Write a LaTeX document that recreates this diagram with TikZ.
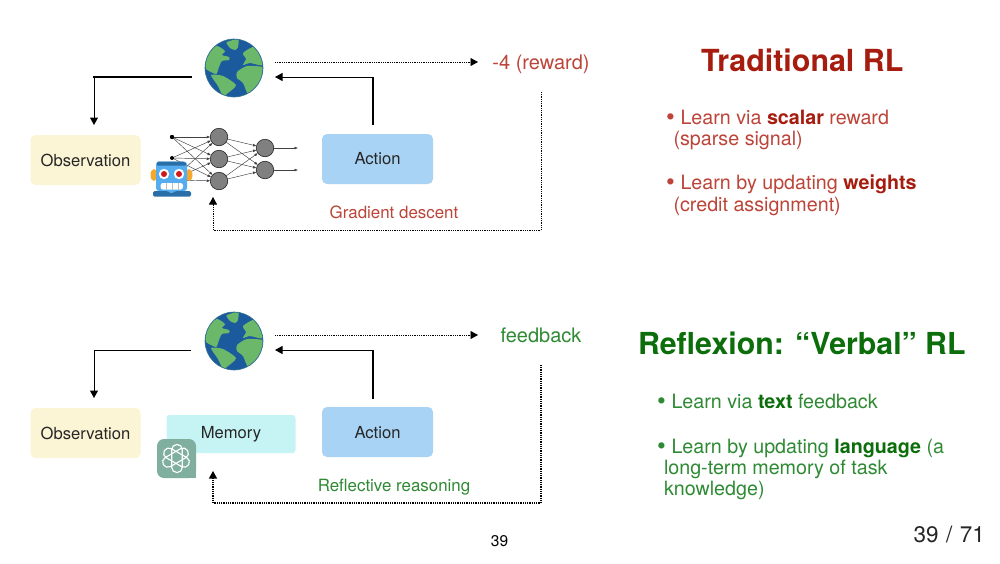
\documentclass[tikz,border=0pt]{standalone}
\usepackage{fontspec}
\setmainfont{TeX Gyre Heros}
\usetikzlibrary{arrows.meta,calc}
\definecolor{redt}{HTML}{A61C0E}
\definecolor{redl}{HTML}{BC4438}
\definecolor{greent}{HTML}{0B6E0B}
\definecolor{greenl}{HTML}{2F8A34}
\definecolor{ocean}{HTML}{1C5A9E}
\definecolor{land}{HTML}{6CB86A}
\definecolor{obscol}{HTML}{FBF5D6}
\definecolor{actcol}{HTML}{A9D3F5}
\definecolor{memcol}{HTML}{C6F4F4}
\definecolor{gptcol}{HTML}{80AE9F}
\definecolor{robotblue}{HTML}{55ACEE}
\definecolor{robotdark}{HTML}{2A6EA8}
\definecolor{robotor}{HTML}{F4A82C}
\tikzset{
  x=1pt,y=-1pt,
  every node/.style={inner sep=0pt,outer sep=0pt,text=black!85},
  lab/.style={font=\fontsize{16.6}{20}\selectfont,anchor=center},
  boxy/.style={rounded corners=5pt,minimum height=50pt,anchor=center},
  obsbox/.style={boxy,fill=obscol,minimum width=110pt},
  actbox/.style={boxy,fill=actcol,minimum width=111pt},
  thinline/.style={draw=black,line width=1pt},
  thickline/.style={draw=black,line width=1.7pt},
  tipped/.style={-{Triangle[length=7.5pt,width=8pt]}},
  dotarrow/.style={draw=black,line width=.9pt,dash pattern=on 1pt off .8pt,tipped},
  neuron/.style={circle,draw=black!85,fill=black!50,line width=.6pt,minimum size=17.5pt},
  syn/.style={draw=black!75,line width=.45pt,-{Latex[length=3.5pt,width=2.8pt]}},
  title/.style={font=\fontsize{30.4}{34}\bfseries\selectfont,anchor=base west},
  bul/.style={font=\fontsize{19.7}{23}\selectfont,anchor=base west},
}
\newcommand{\bigdot}[1]{\makebox[#1][l]{\raisebox{-1.2pt}{\fontsize{25}{25}\selectfont •}}}
\newcommand{\globeat}[2]{%
  \begin{scope}[shift={(#1,#2)}]
    \fill[ocean] (0,0) circle[radius=29];
    \begin{scope}
      \clip (0,0) circle[radius=28.6];
      \fill[land] plot[smooth cycle,tension=.4] coordinates {(-7,-26) (4,-29) (4,-21) (1,-18) (-4,-20) (-7,-24)};
      \fill[land] plot[smooth cycle,tension=.4] coordinates {(-28,-5) (-25,-16) (-17,-22) (-9,-17) (-12,-13) (-5,-11) (-5,-8) (-12,-7) (-15,-1) (-18,6) (-28,1)};
      \fill[land] plot[smooth cycle,tension=.4] coordinates {(9,-15) (21,-21) (29,-3) (16,-5) (9,-3) (12,-9)};
      \fill[land] plot[smooth cycle,tension=.4] coordinates {(3,4) (13,-2) (29,-1) (30,4) (22,23) (14,26) (9,15) (3,10)};
      \fill[land] plot[smooth cycle,tension=.4] coordinates {(-23,7) (-11,8) (2,17) (-6,25) (-11,28) (-16,18)};
    \end{scope}
    \draw[ocean!70!land,line width=.6pt] (0,0) circle[radius=29];
  \end{scope}}
\begin{document}
\begin{tikzpicture}
\useasboundingbox (0,0) rectangle (1000,563);
\fill[white] (0,0) rectangle (1000,563);
% top row
\globeat{234}{68}
\node[circle,minimum size=58pt] (g1) at (234,68) {};
\node[obsbox,lab] (obs1) at (85.5,160) {Observation};
\node[actbox,lab] (act1) at (377.5,159) {};
\node[lab] at (377.5,159) {Action};
\node[lab,text=redl,font=\fontsize{20}{23}\selectfont] (rew1) at (541,64.5) {-4 (reward)};
\coordinate (a1) at (191,77);
\coordinate (a3) at (94,77);
\coordinate (a2) at (94,125);
\coordinate (b1) at (373,125);
\coordinate (b3) at (373,77);
\coordinate (b2) at (275,77);
\coordinate (c1) at (275,62);
\coordinate (c2) at (478,62);
\coordinate (d1) at (541,92);
\coordinate (d2) at (213,197);
\draw[thickline,line cap=rect] (a1) -- (a3);
\draw[thinline,tipped] (a3) -- (a2);
\draw[thickline] (b1) -- (b3);
\draw[thinline,tipped] (373.8,77) -- (b2);
\draw[dotarrow] (c1) -- (c2);
\draw[dotarrow] (d1) -- (541,230) -- (213,230) -- (d2);
% network
\foreach \n/\y in {i1/137,i2/158,i3/180}{\coordinate (\n) at (172,\y);}
\foreach \n/\y in {h1/137,h2/159,h3/181}{\node[neuron] (\n) at (219,\y) {};}
\foreach \n/\y in {k1/148,k2/170}{\node[neuron] (\n) at (265,\y) {};}
\coordinate (o1) at (298,148);
\coordinate (o2) at (298,170);
\foreach \s in {i1,i2,i3}{\foreach \t in {h1,h2,h3}{\draw[syn] (\s) -- (\t);}}
\foreach \s in {h1,h2,h3}{\foreach \t in {k1,k2}{\draw[syn] (\s) -- (\t);}}
\draw[syn] (k1) -- (o1);
\draw[syn] (k2) -- (o2);
\fill[black] (i1) circle[radius=2.2];
\fill[black] (i2) circle[radius=2];
% robot
\fill[robotor] (154,175) ellipse[x radius=3.5,y radius=6];
\fill[robotor] (189,175) ellipse[x radius=3.5,y radius=6];
\fill[robotor] (160,164) arc[start angle=180,end angle=0,x radius=12,y radius=6] -- cycle;
\fill[robotblue,rounded corners=3pt] (156,161.5) rectangle (187,191);
\fill[robotdark] (158,161.5) [rounded corners=2pt] -- (185,161.5) -- (187,165.5) -- (156,165.5) [sharp corners] -- cycle;
\fill[robotblue] (166,190) -- (177,190) -- (171.5,195) -- cycle;
\fill[robotdark,rounded corners=1.5pt] (153,191) -- (168,191) -- (171.5,194) -- (175,191) -- (191,191) -- (191,196.5) -- (153,196.5) -- cycle;
\foreach \x in {164,179}{\fill[white] (\x,174) circle[radius=5.2]; \fill[red!80!black!90] (\x,174) circle[radius=3];}
\fill[white,rounded corners=2.5pt] (160.5,183) rectangle (183,189.5);
\foreach \x in {166,172,178}{\draw[black!25,line width=.6pt] (\x,183) -- (\x,189.5);}
\node[lab,text=redl,font=\fontsize{16.9}{20}\selectfont] (gd) at (394,212.5) {Gradient descent};
% bottom row
\globeat{234}{341}
\node[circle,minimum size=58pt] (g2) at (234,341) {};
\node[obsbox,lab] (obs2) at (85.5,433) {Observation};
\node[actbox,lab] (act2) at (377.5,432) {};
\node[lab] at (377.5,433) {Action};
\node[rectangle,rounded corners=3pt,fill=memcol,minimum width=129pt,minimum height=38pt] (mem) at (231,434) {};
\node[lab] at (231,434.5) {Memory};
\node[lab,text=greenl,font=\fontsize{20}{23}\selectfont] (fb) at (541,335) {feedback};
\coordinate (e1) at (191,350);
\coordinate (e3) at (94,350);
\coordinate (e2) at (94,398);
\coordinate (f1) at (373,399);
\coordinate (f3) at (373,350);
\coordinate (f2) at (275,350);
\coordinate (m1) at (275,335);
\coordinate (m2) at (478,335);
\coordinate (n1) at (541,365);
\coordinate (n2) at (213,471);
\draw[thinline,tipped] (e1) -- (e3) -- (e2);
\draw[thickline] (f1) -- (f3);
\draw[thinline,tipped] (373.8,350) -- (f2);
\draw[dotarrow] (m1) -- (m2);
\draw[dotarrow,line width=1.2pt] (n1) -- (541,503) -- (213,503) -- (n2);
% gpt logo
\fill[gptcol,rounded corners=7pt] (157,439) rectangle (196,478);
\fill[gptcol] (186,468) rectangle (196,478);
\begin{scope}[shift={(176,458.5)}]
  \foreach \a in {0,60,120}{
    \draw[white,line width=1.15pt,rotate=\a,rounded corners=5pt] (-4.2,-14) rectangle (6.2,14);
  }
\end{scope}
\node[lab,text=greenl,font=\fontsize{16.9}{20}\selectfont] (rr) at (394,487) {Reflective reasoning};
% right texts
\node[title,text=redt] at (701,71) {Traditional RL};
\node[bul,text=redl] at (666,124) {\bigdot{14.5pt}Learn via \textbf{\color{redt}scalar} reward};
\node[bul,text=redl] at (673.5,145) {(sparse signal)};
\node[bul,text=redl] at (666,189) {\bigdot{14.5pt}Learn by updating \textbf{\color{redt}weights}};
\node[bul,text=redl] at (673.5,211) {(credit assignment)};
\node[title,text=greent,font=\fontsize{30.3}{34}\bfseries\selectfont] at (638,354) {Reflexion: “Verbal” RL};
\node[bul,text=greenl] at (657,408) {\bigdot{14.5pt}Learn via \textbf{\color{greent}text} feedback};
\node[bul,text=greenl] at (657,453) {\bigdot{14.5pt}Learn by updating \textbf{\color{greent}language} (a};
\node[bul,text=greenl] at (664,474) {long-term memory of task};
\node[bul,text=greenl] at (664,495) {knowledge)};
\node[font=\fontsize{15.5}{18}\selectfont,text=black] at (499.5,541) {39};
\node[font=\fontsize{22.5}{25}\selectfont,text=black!85,anchor=base east] at (985,542) {39\hspace{7.5pt}/\hspace{7.5pt}71};
\end{tikzpicture}
\end{document}
